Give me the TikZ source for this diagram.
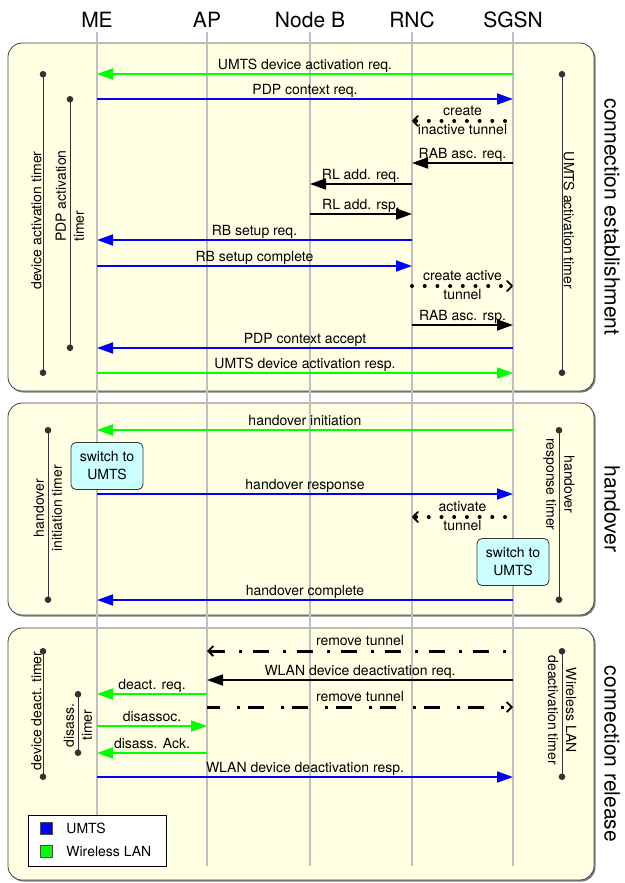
\documentclass[tikz,border=0pt]{standalone}
\usepackage{fontspec}
\setmainfont{TeX Gyre Heros}
\usetikzlibrary{arrows.meta,positioning}

\definecolor{phasefill}{RGB}{255,255,228}
\definecolor{umtsblue}{RGB}{0,0,255}
\definecolor{wlangreen}{RGB}{0,255,0}
\definecolor{switchfill}{RGB}{204,255,255}
\definecolor{lifegray}{RGB}{192,192,192}

\tikzstyle{phase}=[draw=black!75,fill=phasefill,rounded corners=14pt,line width=0.8pt]
\tikzstyle{phaseshadow}=[fill=black!50,rounded corners=14pt]
\tikzstyle{phaselabel}=[font=\fontsize{21}{25}\selectfont,rotate=-90,inner sep=0pt]
\tikzstyle{entity}=[font=\fontsize{21}{25}\selectfont,inner sep=0pt]
\tikzstyle{lifeline}=[draw=lifegray,line width=1.3pt]
\tikzstyle{msg}=[line width=1.8pt,-{Triangle[length=16pt,width=11pt]}]
\tikzstyle{umts}=[msg,umtsblue]
\tikzstyle{wlan}=[msg,wlangreen]
\tikzstyle{core}=[msg,black]
\tikzstyle{lbl}=[above,inner sep=1pt,text depth=3pt,text=black,font=\fontsize{14}{17}\selectfont]
\tikzstyle{tunnel}=[black,line width=4pt,line cap=round,dash pattern=on 0pt off 12.7pt,
  -{Straight Barb[length=5pt,width=10pt,line width=1.8pt,round]}]
\tikzstyle{cutover}=[black,line width=3pt,dash pattern=on 3pt off 14pt on 16pt off 11pt,
  -{Straight Barb[length=5pt,width=10pt,line width=1.8pt]}]
\tikzstyle{tunlbl}=[align=center,inner sep=0pt,yshift=1pt,text=black,font=\fontsize{14}{19}\selectfont]
\tikzstyle{timer}=[black!80,line width=1pt,shorten <=-3pt,shorten >=-3pt,
  {Circle[length=6.5pt]}-{Circle[length=6.5pt]}]
\tikzstyle{timerlbl}=[text=black,inner sep=1pt,font=\fontsize{14}{18}\selectfont]
\tikzstyle{switchbox}=[draw=black!80,fill=switchfill,rounded corners=5pt,line width=0.8pt,
  minimum width=72pt,minimum height=47pt,align=center,font=\fontsize{14}{18}\selectfont]
\tikzstyle{legendbox}=[draw=black,fill=white,line width=0.8pt,minimum width=138pt,
  minimum height=51pt,inner sep=0pt]
\tikzstyle{key}=[draw=black!70,minimum size=12pt,inner sep=0pt]
\tikzstyle{keytext}=[inner sep=0pt,font=\fontsize{14}{17}\selectfont]

\begin{document}
\begin{tikzpicture}[x=1pt,y=-1pt]
\useasboundingbox (0,0) rectangle (624,883);

%phases
\foreach \ya/\yb in {43/391,403/615,628/880}{
  \fill[phaseshadow] (9.5,\ya+1.5) rectangle (595.5,\yb+1.5);
  \draw[phase] (8,\ya) rectangle (594,\yb);
}
\node[phaselabel] (estab) at (612,217) {connection establishment};
\node[phaselabel] (hand) at (612,509) {handover};
\node[phaselabel] (release) at (612,754) {connection release};

%entities and lifelines
\node[entity] (ME) at (97,20) {ME};
\node[entity] (AP) at (207,20) {AP};
\node[entity] (NB) at (310,20) {Node B};
\node[entity] (RNC) at (412,20) {RNC};
\node[entity] (SGSN) at (513,20) {SGSN};
\foreach \e in {ME,AP,NB,RNC,SGSN}
  \draw[lifeline] (\e |- 0,32) -- (\e |- 0,866);

%connection establishment
\draw[wlan] (SGSN |- 0,74) -- node[lbl]{UMTS device activation req.} (ME |- 0,74);
\draw[umts] (ME |- 0,99) -- node[lbl]{PDP context req.} (SGSN |- 0,99);
\draw[tunnel,shorten <=8pt] (SGSN |- 0,121) -- node[tunlbl]{create\\inactive tunnel} (RNC |- 0,121);
\draw[core] (SGSN |- 0,163) -- node[lbl]{RAB asc. req.} (RNC |- 0,163);
\draw[core] (RNC |- 0,184) -- node[lbl]{RL add. req.} (NB |- 0,184);
\draw[core] (NB |- 0,214) -- node[lbl]{RL add. rsp.} (RNC |- 0,214);
\draw[umts] (RNC |- 0,240) -- node[lbl]{RB setup req.} (ME |- 0,240);
\draw[umts] (ME |- 0,266) -- node[lbl]{RB setup complete} (RNC |- 0,266);
\draw[tunnel] (RNC |- 0,286) -- node[tunlbl]{create active\\tunnel} (SGSN |- 0,286);
\draw[core] (RNC |- 0,325) -- node[lbl]{RAB asc. rsp.} (SGSN |- 0,325);
\draw[umts] (SGSN |- 0,348) -- node[lbl]{PDP context accept} (ME |- 0,348);
\draw[wlan] (ME |- 0,373) -- node[lbl]{UMTS device activation resp.} (SGSN |- 0,373);

\coordinate (dat1) at (43,74);  \coordinate (dat2) at (43,373);
\coordinate (pat1) at (70,99);  \coordinate (pat2) at (70,348);
\coordinate (uat1) at (562,74); \coordinate (uat2) at (562,373);
\draw[timer] (dat1) -- node[timerlbl,rotate=90,above=3pt]{device activation timer} (dat2);
\draw[timer] (pat1) -- node[timerlbl,pos=.39,rotate=90,align=left]{PDP activation\\timer} (pat2);
\draw[timer] (uat1) -- node[timerlbl,rotate=-90,above=3pt]{UMTS activation timer} (uat2);

%handover
\draw[wlan] (SGSN |- 0,430) -- node[lbl]{handover initiation} (ME |- 0,430);
\draw[umts] (ME |- 0,494) -- node[lbl]{handover response} (SGSN |- 0,494);
\draw[tunnel,shorten <=8pt] (SGSN |- 0,517) -- node[tunlbl]{activate\\tunnel} (RNC |- 0,517);
\draw[umts] (SGSN |- 0,600) -- node[lbl]{handover complete} (ME |- 0,600);

\coordinate (hit1) at (48,430);  \coordinate (hit2) at (48,600);
\coordinate (hrt1) at (559,430); \coordinate (hrt2) at (559,600);
\draw[timer] (hit1) -- node[timerlbl,pos=.46,rotate=90,align=center]{handover\\initiation timer} (hit2);
\draw[timer] (hrt1) -- node[timerlbl,pos=.32,rotate=-90,align=center]{handover\\response timer} (hrt2);

\node[switchbox] (swME) at (107,466) {switch to\\UMTS};
\node[switchbox] (swSGSN) at (513,562) {switch to\\UMTS};

%connection release
\draw[cutover,shorten <=7pt] (SGSN |- 0,651) -- node[lbl]{remove tunnel} (AP |- 0,651);
\draw[core] (SGSN |- 0,680) -- node[lbl]{WLAN device deactivation req.} (AP |- 0,680);
\draw[wlan] (AP |- 0,694) -- node[lbl]{deact. req.} (ME |- 0,694);
\draw[cutover,dash pattern=on 16pt off 16.5pt on 3pt off 8.5pt,dash phase=3pt]
  (AP |- 0,707) -- node[lbl]{remove tunnel} (SGSN |- 0,707);
\draw[wlan] (ME |- 0,726) -- node[lbl]{disassoc.} (AP |- 0,726);
\draw[wlan] (AP |- 0,753) -- node[lbl]{disass. Ack.} (ME |- 0,753);
\draw[umts] (ME |- 0,777) -- node[lbl]{WLAN device deactivation resp.} (SGSN |- 0,777);

\coordinate (ddt1) at (43,651);  \coordinate (ddt2) at (43,777);
\coordinate (dst1) at (78,694);  \coordinate (dst2) at (78,753);
\coordinate (wdt1) at (562,651); \coordinate (wdt2) at (562,777);
\draw[timer] (ddt1) -- node[timerlbl,rotate=90,above=3pt]{device deact. timer} (ddt2);
\draw[timer] (dst1) -- node[timerlbl,pos=.53,rotate=90,align=center]{disass.\\timer} (dst2);
\draw[timer] (wdt1) -- node[timerlbl,pos=.47,rotate=-90,align=center]{Wireless LAN\\deactivation timer} (wdt2);

%legend
\node[legendbox] (legend) at (97,840.5) {};
\node[key,fill=umtsblue] (keyumts) at (46,828) {};
\node[key,fill=wlangreen] (keywlan) at (46,851) {};
\node[keytext,right=14pt of keyumts] (umtstext) {UMTS};
\node[keytext,right=14pt of keywlan] (wlantext) {Wireless LAN};

\end{tikzpicture}
\end{document}
